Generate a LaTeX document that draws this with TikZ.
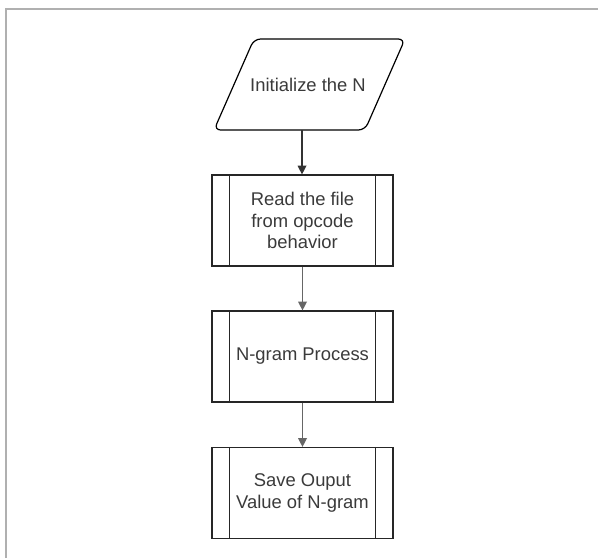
\documentclass[tikz,border=0pt]{standalone}
\usepackage{fontspec}
\setmainfont{Liberation Sans}
\usetikzlibrary{arrows.meta}
\definecolor{txt}{HTML}{3A3A3A}
\definecolor{frame}{HTML}{B0B0B0}
\begin{document}
\begin{tikzpicture}[x=0.75pt,y=-0.75pt,
  proc/.style={draw=black!85,line width=0.9pt,minimum width=181*0.75pt,minimum height=91*0.75pt,inner sep=0pt,text=txt,font=\fontsize{13.8}{15.9}\selectfont,align=center},
  lbl/.style={text=txt,font=\fontsize{13.8}{15.9}\selectfont,align=center},
  conn/.style={draw=black!80,line width=0.9pt,-{Triangle[length=6.5pt,width=6.5pt]}},
  connb/.style={conn,draw=black!60}]
\useasboundingbox (0,0) rectangle (598,558);
\draw[frame,line width=1.2pt] (6,558) -- (6,9) -- (598,9);
% parallelogram
\draw[line width=0.9pt,rounded corners=5pt] (214,130) -- (254,39) -- (405,39) -- (365,130) -- cycle;
\node[lbl] (init) at (308,84.5) {Initialize the N};
\coordinate (initb) at (302,130);
% boxes
\node[proc] (read) at (302.5,220.5) {Read the file\\from opcode\\behavior};
\node[proc] (ngram) at (302.5,356.5) {N-gram Process};
\node[proc] (save) at (302.5,493) {Save Ouput\\Value of N-gram};
\foreach \n in {read,ngram,save}{
  \draw[line width=0.9pt,draw=black!85] ([xshift=18*0.75pt]\n.north west) -- ([xshift=18*0.75pt]\n.south west);
  \draw[line width=0.9pt,draw=black!85] ([xshift=-18*0.75pt]\n.north east) -- ([xshift=-18*0.75pt]\n.south east);
}
\draw[conn] (initb) -- (initb |- read.north);
\draw[connb] (read.south) -- (ngram.north);
\draw[connb] (ngram.south) -- (save.north);
\end{tikzpicture}
\end{document}
